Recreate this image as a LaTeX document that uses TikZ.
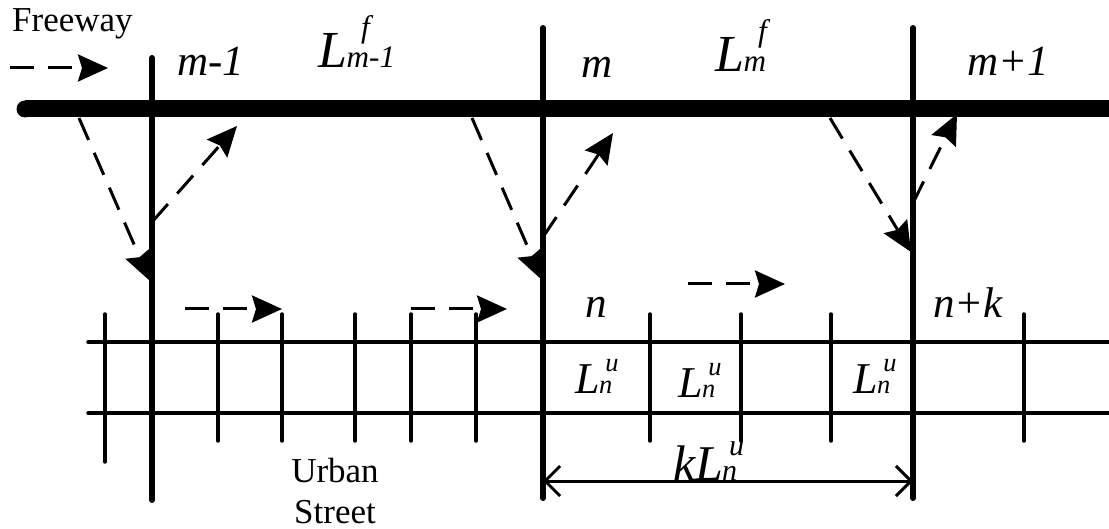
\documentclass[tikz,border=0pt]{standalone}
\usepackage{fontspec}
\setmainfont{Liberation Serif}
\usepackage{graphicx}
\usetikzlibrary{arrows.meta}
\newcommand{\Lsym}[3][0.14em]{L\kern-0.02em\rlap{\kern#1\raisebox{0.5em}{\scalebox{0.6}{#2}}}\scalebox{0.6}{#3}}
\tikzset{
  fwy/.style={line width=17pt},
  thickv/.style={line width=6pt, line cap=round},
  thinl/.style={line width=3.5pt, line cap=round},
  flow/.style={line width=3pt, dash pattern=on 24pt off 14pt, -{Stealth[length=30pt,width=27pt,inset=4pt]}},
  dimline/.style={line width=3pt, {Straight Barb[length=15pt,width=30pt]}-{Straight Barb[length=15pt,width=30pt]}},
  lab/.style={font=\fontsize{43}{43}\selectfont\itshape, inner sep=0pt, anchor=base},
  biglab/.style={font=\fontsize{52}{52}\selectfont\itshape, inner sep=0pt, anchor=base},
  celllab/.style={font=\fontsize{44}{44}\selectfont\itshape, inner sep=0pt, anchor=base},
  dimlab/.style={font=\fontsize{50}{50}\selectfont\itshape, inner sep=0pt, anchor=base},
  txt/.style={font=\fontsize{35}{35}\selectfont, inner sep=0pt, anchor=base}
}
\begin{document}
\begin{tikzpicture}[x=1pt, y=-1pt]
\useasboundingbox (0,0) rectangle (1109,529);
% freeway
\coordinate (fwL) at (25,109);
\coordinate (fwR) at (1109,109);
\fill (fwL) circle (8.5pt);
\draw[fwy] (fwL) -- (fwR);
% street lines
\coordinate (s1L) at (88,342);
\coordinate (s1R) at (1109,342);
\coordinate (s2L) at (88,413);
\coordinate (s2R) at (1109,413);
\draw[thinl] (s1L) -- (s1R);
\draw[thinl] (s2L) -- (s2R);
% ticks
\coordinate (t0a) at (105,314); \coordinate (t0b) at (105,462);
\draw[thinl] (t0a) -- (t0b);
\foreach \xx/\nm in {218/t1,282/t2,355/t3,411/t4,476/t5,650/t6,741/t7,831/t8,1024/t9}{
  \coordinate (\nm a) at (\xx,314);
  \coordinate (\nm b) at (\xx,441);
  \draw[thinl] (\nm a) -- (\nm b);
}
% flow arrows
\coordinate (fa1) at (10,68);  \coordinate (fa2) at (108,68);
\draw[flow] (fa1) -- (fa2);
\coordinate (sa1) at (185,309); \coordinate (sa2) at (282,309);
\draw[flow] (sa1) -- (sa2);
\coordinate (sb1) at (411,309); \coordinate (sb2) at (507,309);
\draw[flow] (sb1) -- (sb2);
\coordinate (sc1) at (688,284); \coordinate (sc2) at (785,284);
\draw[flow] (sc1) -- (sc2);
% ramps
\coordinate (a1s) at (79,118);  \coordinate (a1e) at (150,281);
\coordinate (b1s) at (152,222); \coordinate (b1e) at (237,126);
\coordinate (a2s) at (472,118); \coordinate (a2e) at (542,280);
\coordinate (b2s) at (543,237); \coordinate (b2e) at (613,133);
\coordinate (a3s) at (830,118); \coordinate (a3e) at (911,252);
\coordinate (b3s) at (913,203); \coordinate (b3e) at (957,114);
\draw[flow] (a1s) -- (a1e);
\draw[flow] (b1s) -- (b1e);
\draw[flow] (a2s) -- (a2e);
\draw[flow] (b2s) -- (b2e);
\draw[flow] (a3s) -- (a3e);
\draw[flow] (b3s) -- (b3e);
% thick verticals
\coordinate (v1t) at (152,58);  \coordinate (v1b) at (152,500);
\coordinate (v2t) at (543,28);  \coordinate (v2b) at (543,498);
\coordinate (v3t) at (913,28);  \coordinate (v3b) at (913,498);
\draw[thickv] (v1t) -- (v1b);
\draw[thickv] (v2t) -- (v2b);
\draw[thickv] (v3t) -- (v3b);
% dimension
\coordinate (d1) at (543,481); \coordinate (d2) at (913,481);
\draw[dimline] (d1) -- (d2);
% labels
\node[txt, anchor=base west] (freeway) at (12,32) {Freeway};
\node[lab] (lm1) at (211,76) {m-1};
\node[lab] (lm) at (597,78) {m};
\node[lab] (lmp1) at (1008,76) {m+1};
\node[biglab] (Lfm1) at (357,68) {\Lsym[0.28em]{\raisebox{0.15em}{f}}{m-1}};
\node[biglab] (Lfm) at (741,72) {\Lsym[0.28em]{\raisebox{0.15em}{f}}{m}};
\node[lab] (ln) at (596,318) {n};
\node[lab] (lnk) at (968,318) {n+k};
\node[celllab] (Lu1) at (594,393) {\Lsym{u}{n}};
\node[celllab] (Lu2) at (697,397) {\Lsym{u}{n}};
\node[celllab] (Lu3) at (872,393) {\Lsym{u}{n}};
\node[dimlab] (kL) at (705,480) {k\Lsym{u}{n}};
\node[txt] (urban) at (335,482) {Urban};
\node[txt] (street) at (335,523) {Street};
\end{tikzpicture}
\end{document}
